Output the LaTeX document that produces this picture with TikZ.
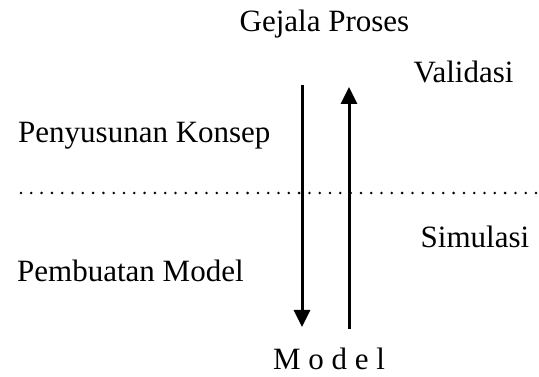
\documentclass[tikz,border=0pt]{standalone}
\usepackage{fontspec}
\setmainfont{Liberation Serif}
\usetikzlibrary{arrows.meta}
\begin{document}
\begin{tikzpicture}[x=1pt,y=-1pt,
  lbl/.style={inner sep=0pt,font=\fontsize{31}{36}\selectfont},
  flow/.style={line width=3pt,-{Triangle[length=17pt,width=16pt]}},
  sep/.style={line width=2.8pt,line cap=round,dash pattern=on 0pt off 10.3pt}]
\useasboundingbox (0,0) rectangle (539,377);
\node[lbl,anchor=base] (gejala) at (324.5,32) {Gejala Proses};
\node[lbl,anchor=base] (validasi) at (463.5,83) {Validasi};
\node[lbl,anchor=base west] (konsep) at (18,143) {Penyusunan Konsep};
\node[lbl,anchor=base] (simulasi) at (475,248) {Simulasi};
\node[lbl,anchor=base west] (pembuatan) at (17,282) {Pembuatan Model};
\node[lbl,anchor=base] (model) at (329,369) {M o d e l};
\coordinate (dtop) at (302,85);
\coordinate (dbot) at (302,327);
\coordinate (ubot) at (349,329);
\coordinate (utop) at (349,87);
\coordinate (lineL) at (21,193);
\coordinate (lineR) at (539,193);
\draw[sep] (lineL) -- (lineR);
\draw[flow] (dtop) -- (dbot);
\draw[flow] (ubot) -- (utop);
\end{tikzpicture}
\end{document}
